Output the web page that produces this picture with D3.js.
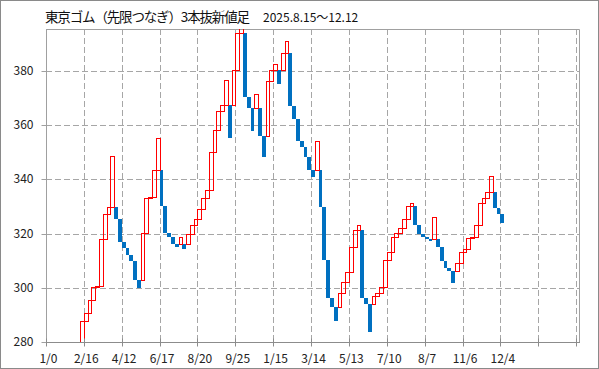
<!DOCTYPE html>
<html><head><meta charset="utf-8">
<script src="https://cdn.jsdelivr.net/npm/d3@7/dist/d3.min.js"></script>
<style>body{margin:0;background:#fff}svg{display:block}</style>
</head><body>
<svg id="chart" width="599" height="369"></svg>
<script>
const titleMain = "東京ゴム（先限つなぎ）3本抜新値足";
const titleDate = "2025.8.15～12.12";
const xLabels = ["1/0","2/16","4/12","6/17","8/20","9/25","1/15","3/14","5/13","7/10","8/7","11/6","12/4"];
const yTicks = [280, 300, 320, 340, 360, 380];
const categoryCount = 141;
const firstBarIndex = 9;
// each brick: open -> close (close > open : up / red, else down / blue)
const opens = [
  275.0, 287.9, 290.8, 295.5, 300.2, 300.6, 317.9, 327.1, 329.9,
  329.9, 325.2, 317.0, 314.8, 312.1, 310.0, 302.9,
  302.9, 320.1, 333.0, 333.3, 343.4,
  343.4, 330.1, 320.1, 318.8, 316.1,
  316.1, 316.1,
  316.1, 320.0, 323.0, 325.5, 329.0, 333.0, 336.0, 350.1, 358.1, 365.3, 367.4,
  367.4, 367.4, 380.3, 393.8,
  393.8, 370.2, 366.1, 366.1, 366.1, 356.0,
  356.0, 376.2, 380.3, 380.3, 380.3, 386.4,
  386.4, 367.1, 362.1, 354.2, 351.8, 348.3, 343.5,
  343.5, 343.5, 329.9, 310.2, 296.1, 293.0,
  293.0, 297.9, 302.0, 305.9, 314.9, 321.3,
  321.3, 296.1, 293.9,
  293.9, 297.0, 298.2, 300.4, 310.2, 313.1, 318.6, 320.3, 321.9, 325.3, 330.1,
  330.1, 323.0, 319.8, 318.8, 318.0,
  318.0, 318.0, 314.9, 310.0, 307.2, 306.0,
  306.0, 309.0, 313.3, 314.3, 318.2, 318.8, 323.0, 331.1, 333.0, 335.2,
  335.2, 329.3, 327.1
];
const closes = [
  287.9, 290.8, 295.5, 300.2, 300.6, 317.9, 327.1, 329.9, 348.6,
  325.2, 317.0, 314.8, 312.1, 310.0, 302.9, 300.0,
  320.1, 333.0, 333.3, 343.4, 355.1,
  330.1, 320.1, 318.8, 316.1, 314.9,
  318.8, 314.2,
  320.0, 323.0, 325.5, 329.0, 333.0, 336.0, 350.1, 358.1, 365.3, 367.4, 376.6,
  355.1, 380.3, 393.8, 399.0,
  370.2, 366.1, 357.9, 371.4, 356.0, 348.1,
  376.2, 380.3, 382.4, 375.3, 386.4, 391.1,
  367.1, 362.1, 354.2, 351.8, 348.3, 343.5, 340.7,
  354.2, 329.9, 310.2, 296.1, 293.0, 287.9,
  297.9, 302.0, 305.9, 314.9, 321.3, 323.0,
  296.1, 293.9, 283.8,
  297.0, 298.2, 300.4, 310.2, 313.1, 318.6, 320.3, 321.9, 325.3, 330.1, 331.1,
  323.0, 319.8, 318.8, 318.0, 317.1,
  326.0, 314.9, 310.0, 307.2, 306.0, 301.9,
  309.0, 313.3, 314.3, 318.2, 318.8, 323.0, 331.1, 333.0, 335.2, 341.2,
  329.3, 327.1, 323.9
];

const W = 599, H = 369;
const plot = {left: 46, right: 580, top: 29, bottom: 342};
const svg = d3.select("#chart");
const font = "'Noto Sans CJK JP', 'Noto Sans', sans-serif";

svg.append("rect").attr("x", 0.5).attr("y", 0.5).attr("width", W - 1).attr("height", H - 1)
  .attr("fill", "#fff").attr("stroke", "#8a8a8a").attr("stroke-width", 1);

const x = d3.scaleLinear().domain([0, categoryCount]).range([plot.left, plot.right]);
const y = d3.scaleLinear().domain([280, 395.4]).range([plot.bottom, plot.top]);

// grid
const gridTicksX = d3.range(10, categoryCount, 10);
svg.append("g").selectAll("line").data(gridTicksX).join("line")
  .attr("x1", d => Math.round(x(d)) + 0.5).attr("x2", d => Math.round(x(d)) + 0.5)
  .attr("y1", plot.top).attr("y2", plot.bottom)
  .attr("stroke", "#a6a6a6").attr("stroke-dasharray", "6,3");
svg.append("g").selectAll("line").data(yTicks.slice(1)).join("line")
  .attr("x1", plot.left).attr("x2", plot.right)
  .attr("y1", d => Math.round(y(d)) + 0.5).attr("y2", d => Math.round(y(d)) + 0.5)
  .attr("stroke", "#a6a6a6").attr("stroke-dasharray", "6,3");

// plot border (top / right)
svg.append("path")
  .attr("d", `M${plot.left},${plot.top + 0.5}H${plot.right - 0.5}V${plot.bottom}`)
  .attr("fill", "none").attr("stroke", "#a0a0a0");

// bricks
svg.append("clipPath").attr("id", "clip").append("rect")
  .attr("x", plot.left).attr("y", plot.top).attr("width", plot.right - plot.left).attr("height", plot.bottom - plot.top);
const bricks = opens.map((o, k) => ({i: firstBarIndex + k, open: o, close: closes[k]}));
const g = svg.append("g").attr("clip-path", "url(#clip)");
g.selectAll("rect.down").data(bricks.filter(d => d.close < d.open)).join("rect")
  .attr("class", "down")
  .attr("x", d => Math.round(x(d.i)))
  .attr("width", d => Math.round(x(d.i + 1)) - Math.round(x(d.i)))
  .attr("y", d => Math.round(y(d.open)))
  .attr("height", d => Math.max(1, Math.round(y(d.close)) - Math.round(y(d.open))))
  .attr("fill", "#0070c0");
g.selectAll("rect.up").data(bricks.filter(d => d.close >= d.open)).join("rect")
  .attr("class", "up")
  .attr("x", d => Math.round(x(d.i)) + 0.5)
  .attr("width", d => Math.round(x(d.i + 1)) - Math.round(x(d.i)))
  .attr("y", d => Math.round(y(d.close)) + 0.5)
  .attr("height", d => Math.max(1, Math.round(y(d.open)) - Math.round(y(d.close))))
  .attr("fill", "none").attr("stroke", "#ff0000").attr("stroke-width", 1);

// axes
const yAxis = d3.axisLeft(y).tickValues(yTicks).tickSize(5).tickPadding(8);
svg.append("g").attr("transform", `translate(${plot.left + 0.5},0)`).call(yAxis)
  .call(s => s.select(".domain").attr("stroke", "#a0a0a0").attr("d", `M0,${plot.top}V${plot.bottom}`))
  .call(s => s.selectAll(".tick line").attr("stroke", "#a0a0a0"))
  .call(s => s.selectAll(".tick").attr("transform", d => `translate(0,${Math.round(y(d)) + 0.5})`))
  .call(s => s.selectAll("text").attr("font-family", font).attr("font-size", 12).attr("fill", "#222"));

const xTicksAxis = d3.axisBottom(x).tickValues(d3.range(0, categoryCount, 10)).tickSize(4).tickFormat("");
svg.append("g").attr("transform", `translate(0,${plot.bottom + 0.5})`).call(xTicksAxis)
  .call(s => s.select(".domain").attr("stroke", "#8c8c8c").attr("d", `M${plot.left},0H${plot.right}`))
  .call(s => s.selectAll(".tick").attr("transform", d => `translate(${Math.round(x(d)) + 0.5},0)`))
  .call(s => s.selectAll(".tick line").attr("stroke", "#8c8c8c").attr("y1", -4));

const labelPos = xLabels.map((l, k) => k * 10 + 0.5);
const xLabelAxis = d3.axisBottom(x).tickValues(labelPos).tickSize(0).tickPadding(12)
  .tickFormat((d, k) => xLabels[k]);
svg.append("g").attr("transform", `translate(0,${plot.bottom})`).call(xLabelAxis)
  .call(s => s.select(".domain").remove())
  .call(s => s.selectAll("text").attr("font-family", font).attr("font-size", 12).attr("fill", "#222"));

// title
svg.append("text").attr("x", 45).attr("y", 22).attr("font-family", font).attr("fill", "#111")
  .attr("font-size", 13.5).attr("textLength", 205).attr("lengthAdjust", "spacing").text(titleMain);
svg.append("text").attr("x", 263).attr("y", 22).attr("font-family", font).attr("fill", "#111")
  .attr("font-size", 12).text(titleDate);
</script>
</body></html>
